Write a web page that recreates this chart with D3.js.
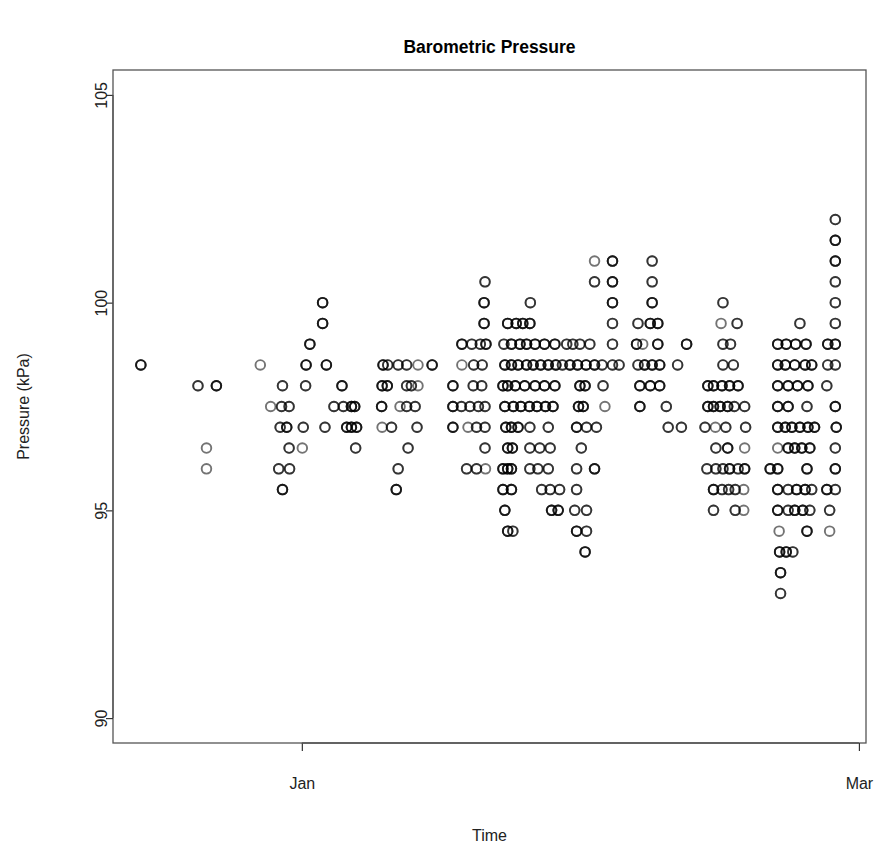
<!DOCTYPE html>
<html><head><meta charset="utf-8">
<script src="https://cdn.jsdelivr.net/npm/d3@7"></script>
<style>body{margin:0;background:#fff} svg{display:block}</style>
</head><body>
<script>
// ---------------- data ----------------
const chartTitle = "Barometric Pressure";
const xLabel = "Time";
const yLabel = "Pressure (kPa)";
// x values are days since 1 Jan
const xTickDays = [0, 59];
const xTickLabels = ["Jan", "Mar"];
const yTicks = [90, 95, 100, 105];

// pressure levels (kPa), the days observed at each level, and how many readings fell on each
const levels = [102, 101.5, 101, 100.5, 100, 99.5, 99, 98.5, 98, 97.5, 97, 96.5, 96, 95.5, 95, 94.5, 94, 93.5, 93];
const daysByLevel = [
  [56.5],
  [56.5],
  [31.0, 32.9, 37.1, 56.5],
  [19.4, 31.0, 32.9, 37.1, 56.5],
  [2.2, 19.3, 24.2, 32.9, 37.1, 44.6, 56.5],
  [2.2, 19.3, 21.8, 22.7, 23.4, 24.15, 32.9, 35.6, 36.9, 37.7, 44.4, 46.1, 52.75, 56.5],
  [0.85, 16.95, 18.0, 18.9, 19.5, 21.4, 22.2, 23.1, 23.8, 24.7, 25.7, 26.8, 28.05, 28.7, 29.45, 30.5, 32.9, 35.45, 36.1, 37.7, 40.75, 44.6, 45.4, 50.4, 51.3, 52.3, 53.4, 55.7, 56.5],
  [-17.05, -4.4, 0.45, 2.6, 8.6, 9.1, 10.2, 11.1, 12.3, 13.8, 16.95, 18.2, 19.1, 21.5, 22.2, 22.9, 23.8, 24.5, 25.3, 26.1, 26.9, 27.6, 28.4, 29.2, 30.1, 31.0, 31.8, 32.9, 33.6, 35.6, 36.3, 37.1, 37.9, 39.8, 44.6, 45.7, 50.4, 51.2, 52.2, 53.3, 54.0, 55.7, 56.5],
  [-11.0, -9.05, -2.05, 0.4, 4.25, 8.5, 9.05, 11.1, 11.6, 12.3, 16.0, 18.15, 19.05, 21.3, 21.8, 22.6, 23.6, 24.7, 25.7, 26.8, 29.45, 30.0, 31.9, 35.8, 36.9, 37.9, 43.0, 43.6, 44.5, 45.3, 46.2, 50.4, 51.5, 52.5, 53.6, 55.6],
  [-3.3, -2.15, -1.35, 3.4, 4.4, 5.25, 5.6, 8.45, 10.4, 11.1, 12.0, 16.0, 16.9, 17.8, 18.7, 19.4, 21.5, 22.4, 23.2, 24.1, 24.9, 25.8, 26.6, 29.3, 29.8, 32.1, 35.8, 38.6, 43.0, 43.6, 44.3, 45.1, 45.8, 46.9, 50.4, 51.5, 53.5, 56.5],
  [-2.3, -1.6, 0.15, 2.45, 4.75, 5.25, 5.8, 8.5, 9.5, 12.2, 16.0, 17.6, 18.5, 19.4, 21.6, 22.2, 22.9, 24.15, 26.1, 29.1, 30.15, 31.2, 38.8, 40.2, 42.7, 43.8, 44.9, 47.0, 50.4, 51.2, 51.9, 52.75, 53.6, 54.3, 56.6],
  [-10.1, -1.35, 0.05, 5.7, 11.25, 19.4, 21.8, 22.3, 24.15, 25.2, 26.3, 29.6, 43.85, 45.1, 46.9, 50.4, 51.5, 52.2, 52.95, 53.8, 56.5],
  [-10.1, -2.45, -1.3, 10.2, 17.45, 18.5, 19.45, 21.3, 21.8, 22.2, 24.15, 25.0, 26.1, 29.1, 31.0, 42.9, 43.85, 44.6, 45.3, 46.2, 46.9, 49.6, 50.4, 53.5, 56.5],
  [-2.05, 10.0, 21.3, 22.2, 25.4, 26.3, 27.3, 29.1, 43.6, 44.5, 45.2, 45.9, 46.8, 50.4, 51.5, 52.4, 53.3, 54.0, 55.6, 56.5],
  [21.5, 26.45, 27.15, 28.9, 30.15, 43.6, 45.9, 46.8, 50.4, 51.5, 52.2, 53.05, 53.8, 55.9],
  [21.8, 22.35, 29.1, 30.15, 50.55, 53.5, 55.9],
  [30.0, 50.6, 51.3, 52.0],
  [50.7],
  [50.7]
];
const countsByLevel = [
  [2],
  [3],
  [1, 3, 2, 3],
  [2, 2, 3, 2, 2],
  [3, 3, 2, 3, 3, 2, 2],
  [3, 3, 3, 3, 3, 3, 2, 2, 3, 3, 1, 2, 2, 2],
  [3, 3, 2, 2, 3, 2, 3, 3, 3, 3, 3, 3, 2, 2, 2, 2, 2, 3, 1, 3, 3, 2, 2, 3, 3, 3, 3, 3, 3],
  [3, 1, 3, 3, 3, 2, 2, 2, 1, 3, 1, 2, 2, 3, 3, 3, 3, 3, 3, 3, 3, 2, 3, 3, 3, 3, 2, 2, 2, 2, 3, 3, 3, 2, 2, 2, 3, 3, 3, 3, 3, 2, 2],
  [2, 3, 2, 2, 3, 3, 3, 2, 2, 1, 3, 2, 2, 3, 3, 3, 3, 3, 3, 3, 3, 3, 2, 3, 3, 3, 3, 3, 3, 3, 3, 3, 3, 3, 3, 2],
  [1, 2, 2, 2, 2, 3, 3, 3, 1, 2, 2, 3, 2, 2, 2, 2, 3, 3, 3, 3, 3, 3, 3, 3, 3, 1, 3, 2, 3, 3, 3, 3, 2, 2, 3, 3, 2, 3],
  [2, 3, 2, 2, 3, 3, 3, 1, 2, 2, 3, 1, 2, 2, 3, 3, 3, 2, 2, 3, 2, 2, 2, 2, 2, 1, 2, 2, 3, 3, 3, 3, 3, 3, 3],
  [1, 2, 1, 2, 2, 2, 3, 3, 2, 2, 2, 2, 2, 3, 1, 1, 3, 3, 3, 3, 2],
  [1, 2, 2, 2, 2, 2, 1, 3, 3, 3, 2, 2, 2, 2, 3, 2, 2, 2, 3, 2, 3, 3, 3, 3, 3],
  [3, 3, 3, 3, 2, 2, 2, 2, 3, 2, 2, 2, 1, 3, 2, 3, 3, 2, 3, 2],
  [3, 3, 3, 2, 2, 2, 2, 1, 3, 2, 3, 3, 2, 2],
  [3, 2, 3, 2, 1, 3, 1],
  [3, 3, 3, 2],
  [3],
  [2]
];

// ---------------- chart ----------------
const W = 881, H = 849;
const box = {left: 113, right: 866, top: 70, bottom: 743};

const svg = d3.select("body").append("svg")
  .attr("width", W).attr("height", H)
  .style("font-family", "'Liberation Sans', Arial, Helvetica, sans-serif");

svg.append("rect").attr("width", W).attr("height", H).attr("fill", "#fff");

const x = d3.scaleLinear().domain([-20.0, 59.75]).range([box.left, box.right]);
const y = d3.scaleLinear().domain([89.4, 105.6]).range([box.bottom, box.top]);

// observations (one circle per reading)
const obs = [];
levels.forEach((lv, i) => {
  daysByLevel[i].forEach((d, j) => {
    const n = countsByLevel[i][j];
    for (let k = 0; k < n; k++) obs.push({day: d, kPa: lv});
  });
});

svg.append("g").selectAll("circle").data(obs).join("circle")
  .attr("cx", d => x(d.day))
  .attr("cy", d => y(d.kPa))
  .attr("r", 4.8)
  .attr("fill", "none")
  .attr("stroke", "#000")
  .attr("stroke-opacity", 0.55)
  .attr("stroke-width", 1.9);

// box
svg.append("rect")
  .attr("x", box.left).attr("y", box.top)
  .attr("width", box.right - box.left).attr("height", box.bottom - box.top)
  .attr("fill", "none").attr("stroke", "#555").attr("stroke-width", 1.3);

// y axis
const gy = svg.append("g").attr("transform", `translate(${box.left},0)`)
  .call(d3.axisLeft(y).tickValues(yTicks).tickSize(7).tickSizeOuter(0).tickFormat(d3.format("d")));
gy.select(".domain").remove();
gy.selectAll(".tick line").attr("stroke", "#333").attr("stroke-width", 1.2);
gy.selectAll(".tick text")
  .attr("x", null).attr("dy", null)
  .attr("transform", "translate(-6,0) rotate(-90)")
  .attr("text-anchor", "middle")
  .attr("y", 0)
  .attr("font-size", 16).attr("fill", "#222")
  .attr("font-family", "'Liberation Sans', Arial, sans-serif");
gy.append("line").attr("x1", 0).attr("x2", 0)
  .attr("y1", y(yTicks[0])).attr("y2", y(yTicks[yTicks.length - 1]))
  .attr("stroke", "#555").attr("stroke-width", 1.3);

// x axis
const gx = svg.append("g").attr("transform", `translate(0,${box.bottom})`)
  .call(d3.axisBottom(x).tickValues(xTickDays).tickSize(8).tickSizeOuter(0)
    .tickFormat((d, i) => xTickLabels[i]));
gx.select(".domain").remove();
gx.selectAll(".tick line").attr("stroke", "#333").attr("stroke-width", 1.2);
gx.selectAll(".tick text")
  .attr("y", 46).attr("dy", null)
  .attr("font-size", 16).attr("fill", "#222")
  .attr("font-family", "'Liberation Sans', Arial, sans-serif");
gx.append("line").attr("y1", 0).attr("y2", 0)
  .attr("x1", x(xTickDays[0])).attr("x2", x(xTickDays[xTickDays.length - 1]))
  .attr("stroke", "#555").attr("stroke-width", 1.3);

// titles
svg.append("text")
  .attr("x", (box.left + box.right) / 2).attr("y", 53)
  .attr("text-anchor", "middle")
  .attr("font-size", 17.5).attr("font-weight", "bold").attr("fill", "#000")
  .text(chartTitle);

svg.append("text")
  .attr("x", (box.left + box.right) / 2).attr("y", 841)
  .attr("text-anchor", "middle")
  .attr("font-size", 16).attr("fill", "#222")
  .text(xLabel);

svg.append("text")
  .attr("transform", `translate(29,${(box.top + box.bottom) / 2}) rotate(-90)`)
  .attr("text-anchor", "middle")
  .attr("font-size", 16).attr("fill", "#222")
  .text(yLabel);
</script>
</body></html>
